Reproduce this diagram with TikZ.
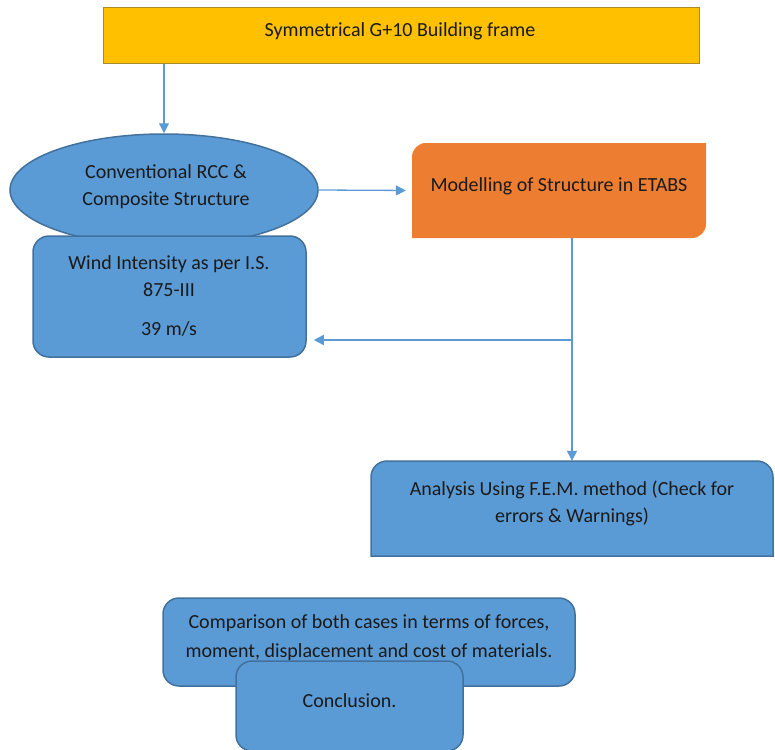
\documentclass[tikz,border=0pt]{standalone}
\usepackage{fontspec}
\setmainfont{Carlito}
\usetikzlibrary{arrows.meta,shapes.geometric}
\definecolor{bfill}{HTML}{5B9BD5}
\definecolor{bdraw}{HTML}{41719C}
\definecolor{yfill}{HTML}{FFC000}
\definecolor{ydraw}{HTML}{A88A2A}
\definecolor{ofill}{HTML}{ED7D31}
\definecolor{arr}{HTML}{5B9BD5}
\definecolor{tcol}{HTML}{1A1A1A}
\begin{document}
\begin{tikzpicture}[x=1pt,y=-1pt,
  font=\fontsize{20}{27}\selectfont,
  bluebox/.style={fill=bfill,draw=bdraw,line width=1.5pt,rounded corners=16pt,inner sep=0pt},
  plain/.style={inner sep=0pt,draw=none},
  conn/.style={draw=arr,line width=1.3pt,-{Triangle[width=10pt,length=10pt]}},
  txt/.style={align=center,inner sep=0pt,text=tcol}]
\useasboundingbox (0,0) rectangle (775,749);

% top yellow box
\node[plain,draw=ydraw,fill=yfill,line width=1pt,minimum width=596pt,minimum height=56pt] (top) at (401,36) {};
\node[txt] (ttop) at (400,31) {Symmetrical G+10 Building frame};

% ellipse
\node[ellipse,fill=bfill,draw=bdraw,line width=1.5pt,minimum width=308pt,minimum height=112pt,inner sep=0pt] (conv) at (164,190) {};
\node[txt] (tconv) at (166,187) {Conventional RCC \&\\Composite Structure};

% wind box
\node[bluebox,minimum width=273pt,minimum height=121pt] (wind) at (169.5,296.5) {};
\node[txt] (twind1) at (169,276) {Wind Intensity as per I.S.\\875-III};
\node[txt] (twind2) at (169,329) {39 m/s};

% orange box
\fill[ofill] (412,238) [rounded corners=14pt] -- (412,143) [sharp corners] -- (706,143) [rounded corners=14pt] -- (706,238) [sharp corners] -- cycle;
\node[plain,minimum width=294pt,minimum height=95pt] (model) at (559,190.5) {};
\node[txt] (tmodel) at (559,186) {Modelling of Structure in ETABS};

% analysis box
\filldraw[fill=bfill,draw=bdraw,line width=1.5pt] (371,556) [rounded corners=16pt] -- (371,461) -- (773,461) [sharp corners] -- (773,556) -- cycle;
\node[plain,minimum width=402pt,minimum height=95pt] (ana) at (572,508.5) {};
\node[txt] (tana) at (572,503) {Analysis Using F.E.M. method (Check for\\errors \& Warnings)};

% comparison box
\node[bluebox,minimum width=412pt,minimum height=88pt] (comp) at (369,642) {};
\node[txt,font=\fontsize{20}{29}\selectfont] (tcomp) at (369,637.5) {Comparison of both cases in terms of forces,\\moment, displacement and cost of materials.};

% conclusion box
\node[bluebox,minimum width=227pt,minimum height=90pt] (concl) at (349.5,706) {};
\node[txt] (tconcl) at (349.5,701) {Conclusion.};

% connectors
\coordinate (br) at (572,340);
\draw[conn] (top.south -| conv.north) -- (conv.north);
\draw[conn,shorten >=6pt] (conv.east) -- (model.west);
\draw[conn] (model.south -| ana.north) -- (ana.north);
\draw[conn,shorten >=7pt] (br) -- (br -| wind.east);
\end{tikzpicture}
\end{document}
